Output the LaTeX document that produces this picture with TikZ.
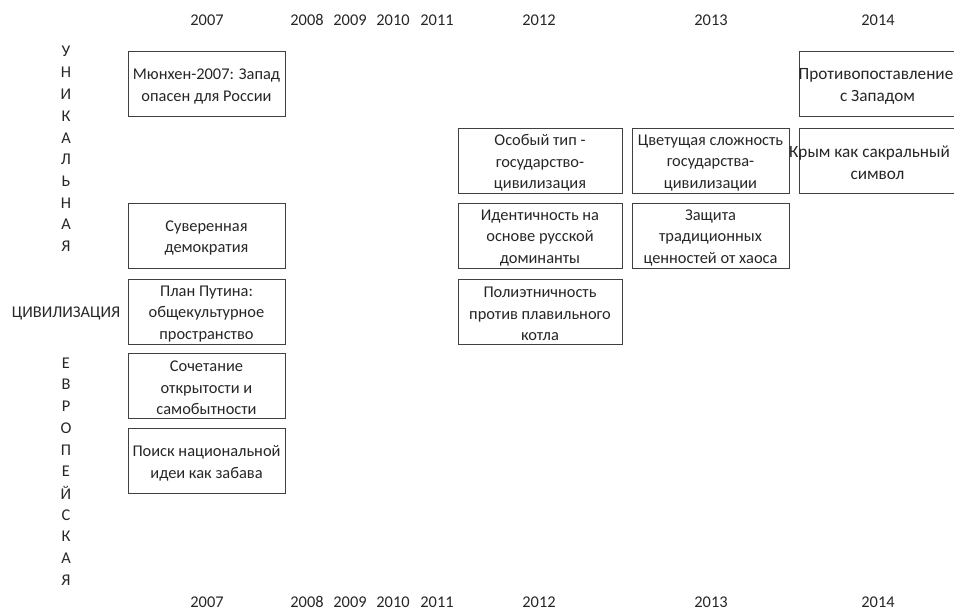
\documentclass[tikz,border=0pt]{standalone}
\usepackage{fontspec}
\setmainfont{Carlito}
\newcommand\zw[1]{\makebox[0pt][c]{#1}}
\begin{document}
\begin{tikzpicture}[x=1pt,y=-1pt,
  txt/.style={font=\fontsize{16.4}{21.7}\selectfont, text=black!85, inner sep=0pt},
  card/.style={draw=black!75, line width=0.9pt, minimum width=157pt, minimum height=65pt, inner sep=0pt},
  widecard/.style={card, minimum width=164pt},
  ctext/.style={txt, align=center},
  bigtext/.style={ctext, font=\fontsize{17.2}{21.7}\selectfont},
  yr/.style={txt, anchor=base},
  letter/.style={txt, anchor=center}]
\useasboundingbox (0,0) rectangle (954,610);
% years top
\foreach \x/\y/\n in {207/2007/t7, 307/2008/t8, 350/2009/t9, 393/2010/t10, 437/2011/t11, 539/2012/t12, 711/2013/t13, 878/2014/t14}
  \node[yr] (\n) at (\x,25.5) {\y};
% years bottom
\foreach \x/\y/\n in {207/2007/b7, 307/2008/b8, 350/2009/b9, 393/2010/b10, 437/2011/b11, 539/2012/b12, 711/2013/b13, 878/2014/b14}
  \node[yr] (\n) at (\x,607.5) {\y};
% left vertical letters
\foreach \l [count=\i from 0] in {У,Н,И,К,А,Л,Ь,Н,А,Я}
  \node[letter] (u\i) at (66,{51+21.7*\i}) {\l};
\node[letter] (civ) at (66,313) {ЦИВИЛИЗАЦИЯ};
\foreach \l [count=\i from 0] in {Е,В,Р,О,П,Е,Й,С,К,А,Я}
  \node[letter] (e\i) at (66,{363+21.7*\i}) {\l};
% 2007 column
\node[card] (munich) at (206.5,84) {};
\node[ctext] (munich-t) at ([yshift=-2.5pt]munich.center) {Мюнхен-2007: Запад\\опасен для России};
\node[card] (suv) at (206.5,235.5) {};
\node[ctext] (suv-t) at ([yshift=-2.5pt]suv.center) {Суверенная\\демократия};
\node[card] (plan) at (206.5,311.5) {};
\node[ctext] (plan-t) at ([yshift=-2.5pt]plan.center) {План Путина:\\общекультурное\\пространство};
\node[card] (soch) at (206.5,385.5) {};
\node[ctext] (soch-t) at ([yshift=-2.5pt]soch.center) {Сочетание\\открытости и\\самобытности};
\node[card] (poisk) at (206.5,460.5) {};
\node[ctext] (poisk-t) at ([yshift=-2.5pt]poisk.center) {Поиск национальной\\идеи как забава};
% 2012 column
\node[widecard] (osob) at (540,160.5) {};
\node[ctext] (osob-t) at ([yshift=-2.5pt]osob.center) {Особый тип -\\государство-\\цивилизация};
\node[widecard] (ident) at (540,235.5) {};
\node[ctext] (ident-t) at ([yshift=-2.5pt]ident.center) {Идентичность на\\основе русской\\доминанты};
\node[widecard] (poly) at (540,311.5) {};
\node[ctext] (poly-t) at ([yshift=-2.5pt]poly.center) {Полиэтничность\\против плавильного\\котла};
% 2013 column
\node[card] (tsvet) at (710.5,160.5) {};
\node[ctext] (tsvet-t) at ([yshift=-2.5pt]tsvet.center) {Цветущая сложность\\государства-\\цивилизации};
\node[card] (zash) at (710.5,235.5) {};
\node[ctext] (zash-t) at ([yshift=-2.5pt]zash.center) {Защита\\традиционных\\ценностей от хаоса};
% 2014 column (clipped at right edge)
\begin{scope}
\clip (0,0) rectangle (954,610);
\node[card] (protiv) at (877.5,84) {};
\node[bigtext] (protiv-t) at ([yshift=-2.5pt]protiv.center) {\zw{\hspace*{-3pt}Противопоставление}\\\zw{с Западом}};
\node[card] (krym) at (877.5,160.5) {};
\node[bigtext] (krym-t) at ([yshift=-2.5pt]krym.center) {\zw{\hspace*{-16pt}Крым как сакральный}\\\zw{символ}};
\end{scope}
\end{tikzpicture}
\end{document}
